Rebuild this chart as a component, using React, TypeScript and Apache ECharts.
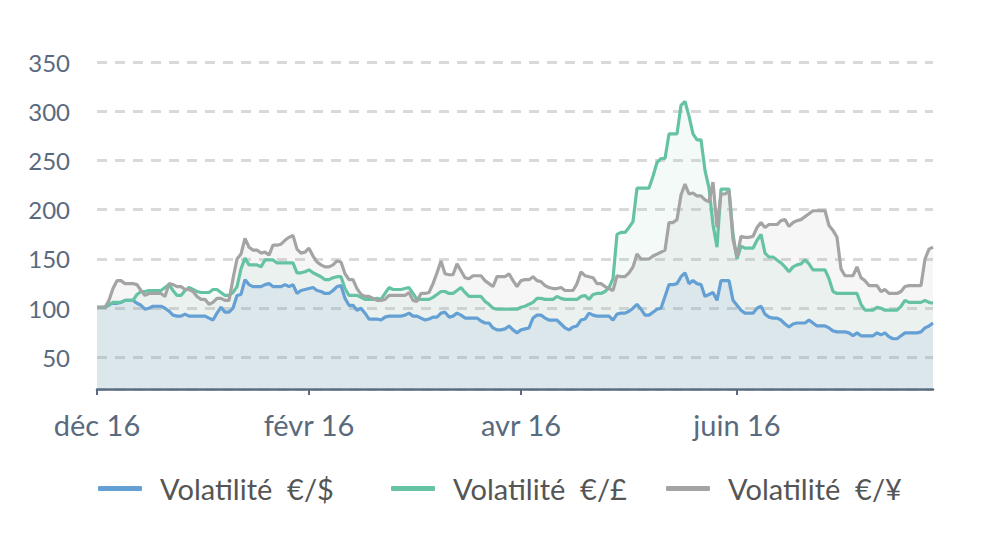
import React, { useEffect, useRef } from "react";
import * as echarts from "echarts";

const tickIndices = [0, 53, 106, 160];
const tickLabels = ["déc 16", "févr 16", "avr 16", "juin 16"];

const usdVol = [
  101,101,101,104,105,105,106,108,108,108,
  105,103,99,100,102,102,102,100,97,93,
  92,92,94,92,92,92,92,92,90,88,
  95,101,96,96,100,113,114,129,124,122,
  122,122,124,125,122,122,122,124,122,124,
  115,118,119,120,121,118,117,115,115,118,
  122,123,110,103,103,98,100,95,89,89,
  89,88,91,92,92,92,92,93,95,92,
  92,90,88,89,91,91,95,96,91,92,
  95,93,90,90,90,90,87,85,85,80,
  78,78,79,82,78,75,78,79,80,90,
  93,93,90,88,88,88,84,80,78,81,
  82,88,89,95,93,92,92,92,92,88,
  94,95,95,97,100,104,99,93,93,96,
  99,100,112,124,124,125,132,136,125,128,
  125,124,112,114,116,108,128,128,128,108,
  103,98,95,95,95,100,102,94,91,90,
  90,88,84,81,84,85,85,85,88,85,
  82,82,82,80,77,76,76,76,75,72,
  75,72,72,72,72,75,73,75,71,69,
  69,72,75,75,75,75,76,80,82,85,
];

const gbpVol = [
  101,101,101,103,106,106,106,108,108,108,
  114,117,117,118,118,118,118,121,124,118,
  113,113,118,121,119,117,116,116,116,119,
  119,116,113,113,116,122,140,151,144,144,
  144,142,149,149,149,146,146,146,146,146,
  136,136,137,139,136,134,132,129,129,131,
  132,132,120,113,113,113,111,109,109,109,
  110,109,115,121,119,119,119,120,121,115,
  109,109,109,109,111,114,117,117,115,115,
  118,121,116,112,112,112,112,107,104,100,
  99,99,99,99,99,99,101,102,104,106,
  110,110,109,109,109,112,110,109,109,109,
  109,112,113,109,114,115,115,117,121,130,
  175,177,177,182,188,222,222,222,222,234,
  248,252,252,277,277,277,306,310,295,277,
  271,271,240,222,185,162,221,221,221,175,
  150,163,161,161,161,169,175,156,152,152,
  149,146,142,137,142,144,145,149,145,139,
  139,139,139,130,117,115,115,115,115,115,
  115,104,98,98,98,101,100,98,98,98,
  98,102,108,106,106,106,106,108,106,105,
];

const jpyVol = [
  101,101,101,108,120,128,128,125,125,125,
  124,118,113,115,115,115,115,112,125,124,
  122,122,119,119,117,112,109,109,104,106,
  110,110,108,108,130,150,155,171,162,159,
  159,156,157,154,164,164,165,169,172,174,
  160,156,157,161,153,147,144,142,142,144,
  148,147,135,129,129,120,114,112,112,110,
  108,108,109,113,113,113,113,113,116,108,
  107,115,115,116,125,136,148,135,134,134,
  145,138,131,130,133,133,133,128,125,122,
  132,132,132,135,128,122,128,129,129,132,
  128,127,123,121,120,120,121,118,118,118,
  125,137,133,132,131,125,125,122,120,118,
  133,132,132,136,142,155,150,150,150,153,
  155,157,159,187,187,190,215,226,216,217,
  214,214,210,208,228,182,216,216,219,170,
  152,173,172,172,173,182,187,182,185,185,
  185,189,190,183,187,189,190,193,196,199,
  199,199,199,184,179,172,140,133,133,133,
  142,131,128,123,123,123,117,119,115,115,
  115,117,122,123,123,123,123,150,160,162,
];

const categories = usdVol.map((_, i) => String(i));

const seriesNames = ["Volatilité  €/$", "Volatilité  €/£", "Volatilité  €/¥"];
const seriesColors = ["#64a0d4", "#66c2a5", "#a4a4a4"];
const areaOpacities = [0.12, 0.08, 0.1];
const legendLefts = [98, 391, 666];

const FONT = "Lato, 'Noto Sans', sans-serif";

export default function App() {
  const ref = useRef<HTMLDivElement>(null);
  useEffect(() => {
    if (!ref.current) return;
    const chart = echarts.init(ref.current, undefined, { renderer: "svg" });
    const isTick = (idx: number) => tickIndices.indexOf(idx) >= 0;
    const dataSets = [usdVol, gbpVol, jpyVol];
    chart.setOption({
      animation: false,
      backgroundColor: "#ffffff",
      textStyle: { fontFamily: FONT },
      grid: { left: 97, right: 75, top: 62, bottom: 155, containLabel: false },
      legend: seriesNames.map((n, i) => ({
        data: [n],
        left: legendLefts[i],
        top: 474,
        padding: 0,
        icon: "roundRect",
        itemWidth: 44,
        itemHeight: 5,
        selectedMode: false,
        textStyle: {
          fontFamily: FONT,
          fontSize: 29,
          color: "#555555",
          padding: [0, 0, 0, 13],
        },
      })),
      xAxis: {
        type: "category",
        data: categories,
        boundaryGap: false,
        axisLine: { show: true, lineStyle: { color: "#5a6a7e", width: 2.5 } },
        axisTick: {
          show: true,
          interval: (idx: number) => isTick(idx),
          length: 6,
          lineStyle: { color: "#5a6a7e", width: 2 },
        },
        axisLabel: {
          interval: (idx: number) => isTick(idx),
          formatter: (_v: string, idx: number) => {
            const k = tickIndices.indexOf(idx);
            return k >= 0 ? tickLabels[k] : "";
          },
          color: "#5a6a7e",
          fontFamily: FONT,
          fontSize: 29,
          margin: 21,
        },
        splitLine: { show: false },
      },
      yAxis: {
        type: "value",
        min: 18,
        max: 350,
        splitNumber: 6,
        axisLine: { show: false },
        axisTick: { show: false },
        axisLabel: {
          showMinLabel: false,
          formatter: (v: number) => (v % 50 === 0 ? String(v) : ""),
          color: "#5a6a7e",
          fontFamily: FONT,
          fontSize: 24,
          margin: 27,
        },
        splitLine: {
          show: true,
          lineStyle: { color: "#d9d9d9", width: 3, type: [10, 8] },
        },
      },
      series: dataSets.map((d, i) => ({
        name: seriesNames[i],
        type: "line",
        data: d,
        showSymbol: false,
        symbol: "none",
        lineStyle: { color: seriesColors[i], width: 3.2 },
        itemStyle: { color: seriesColors[i] },
        areaStyle: { color: seriesColors[i], opacity: areaOpacities[i] },
      })),
    });
    return () => chart.dispose();
  }, []);
  return (
    <div
      ref={ref}
      style={{ position: "fixed", left: 0, top: 0, width: 1008, height: 544 }}
    />
  );
}
